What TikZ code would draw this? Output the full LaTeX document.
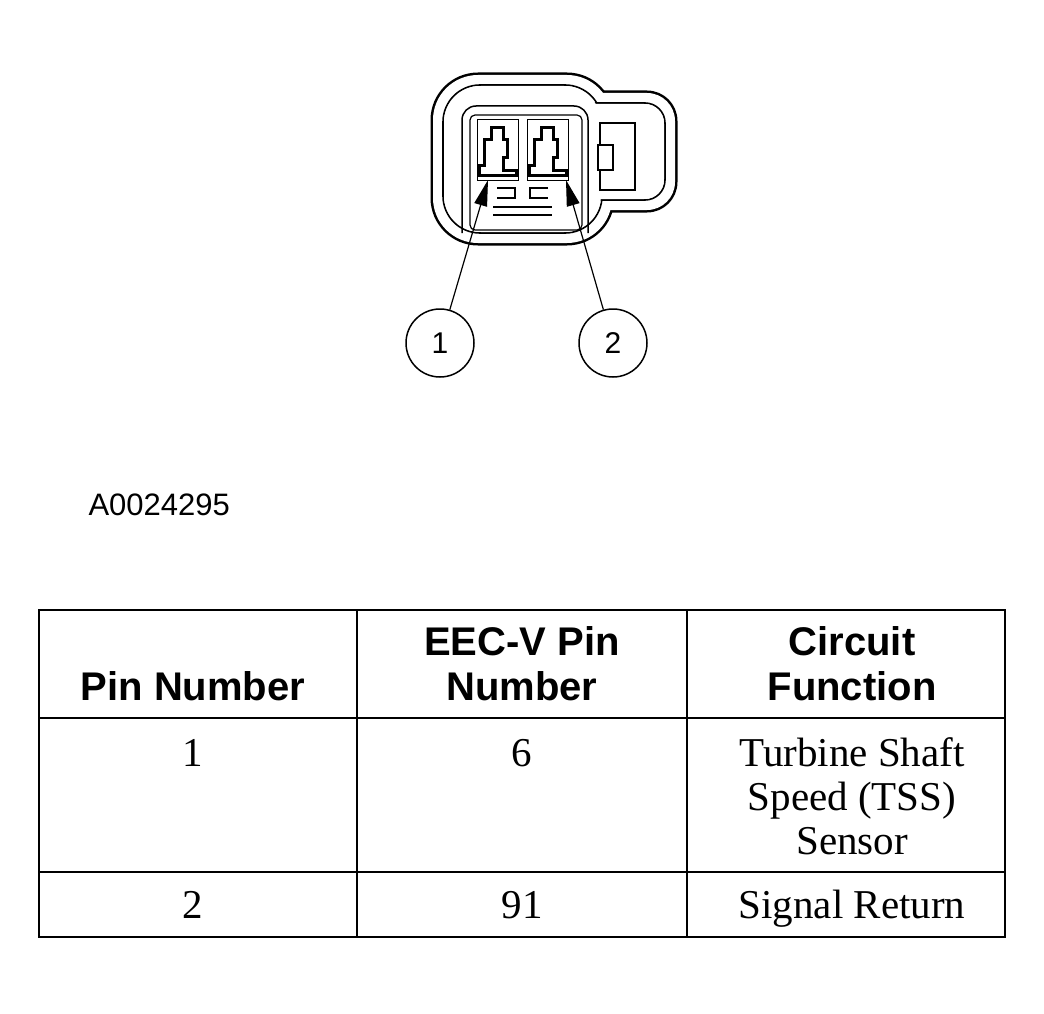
\documentclass[tikz,border=0pt]{standalone}
\usepackage{fontspec}
\setmainfont{Liberation Serif}
\setsansfont{Liberation Sans}
\usetikzlibrary{positioning, arrows.meta}

\tikzset{
    pin/.style={draw, circle, line width=1.5pt, minimum size=68pt, inner sep=0pt, font=\sffamily\fontsize{30}{30}\selectfont},
    head/.style={font=\sffamily\bfseries\fontsize{40}{45}\selectfont, align=center, anchor=base},
    cell/.style={font=\fontsize{41}{44}\selectfont, align=center, anchor=base},
    callout/.style={-{Triangle[length=26pt, width=13pt]}, line width=1.2pt}
}

\begin{document}
\begin{tikzpicture}[x=1pt, y=-1pt]
    \useasboundingbox (0,0) rectangle (1044,1014);

    % Connector shell (outer and inner outline)
    \draw[line width=5pt, rounded corners=45pt] (433,75) rectangle (612,243);
    \draw[line width=5pt, rounded corners=28pt] (570,93) rectangle (675,210);
    \fill[white, rounded corners=45pt] (433,75) rectangle (612,243);
    \fill[white, rounded corners=28pt] (570,93) rectangle (675,210);
    \draw[line width=1.6pt, rounded corners=37pt] (443,85) rectangle (602,233);
    \draw[line width=1.6pt, rounded corners=20pt] (570,103) rectangle (665,200);
    \fill[white, rounded corners=37pt] (444,86) rectangle (601,232);
    \fill[white, rounded corners=20pt] (570,104) rectangle (664,199);
    \draw[line width=1.5pt, rounded corners=14pt] (462,233) -- (462,106) -- (588,106) -- (588,233);
    \draw[line width=1.2pt, rounded corners=5pt] (470,115) rectangle (582,230);

    % Pin cavities
    \foreach \x in {477,527} {
        \draw[line width=1pt] (\x,120) rectangle (\x+41,180);
        \draw[line width=3pt] (\x+2,175) -- (\x+2,165) -- (\x+7,165) -- (\x+7,140) -- (\x+14,140) -- (\x+14,128) -- (\x+26,128) -- (\x+26,140) -- (\x+30,140) -- (\x+30,158) -- (\x+26,158) -- (\x+26,170) -- (\x+39,170) -- (\x+39,175) -- cycle;
    }

    % Ribs and key
    \draw[line width=1.5pt] (497,188) -- (515,188) -- (515,198) -- (497,198);
    \draw[line width=1.5pt] (548,188) -- (530,188) -- (530,198) -- (548,198);
    \draw[line width=1.5pt] (493,207) -- (552,207);
    \draw[line width=1.5pt] (493,215) -- (552,215);
    \draw[line width=1.5pt] (600,123) rectangle (635,190);
    \draw[line width=1.5pt, fill=white] (598,145) rectangle (613,170);
    \draw[white, line width=2pt] (600.5,147) -- (600.5,168);

    % Callouts
    \node (P1) [pin] at (440,343) {1};
    \node (P2) [pin] at (613,343) {2};
    \coordinate (T1) at (488,180);
    \coordinate (T2) at (566,180);
    \draw[callout] (P1) -- (T1);
    \draw[callout] (P2) -- (T2);

    \node (ID) [font=\sffamily\fontsize{31}{31}\selectfont, anchor=base west] at (85,515) {A0024295};

    % Table
    \draw[line width=2pt] (39,610) rectangle (1005,937);
    \foreach \x in {357,687} \draw[line width=2pt] (\x,610) -- (\x,937);
    \foreach \y in {718,872} \draw[line width=2pt] (39,\y) -- (1005,\y);

    \node (H1) [head] at (193,700) {Pin Number};
    \node (H2) [head] at (522,700) {EEC-V Pin\\Number};
    \node (H3) [head] at (852,700) {Circuit\\Function};
    \node (C11) [cell] at (193,766) {1};
    \node (C12) [cell] at (522,766) {6};
    \node (C13) [cell] at (852,854) {Turbine Shaft\\Speed (TSS)\\Sensor};
    \node (C21) [cell] at (193,918) {2};
    \node (C22) [cell] at (522,918) {91};
    \node (C23) [cell] at (852,918) {Signal Return};
\end{tikzpicture}
\end{document}
